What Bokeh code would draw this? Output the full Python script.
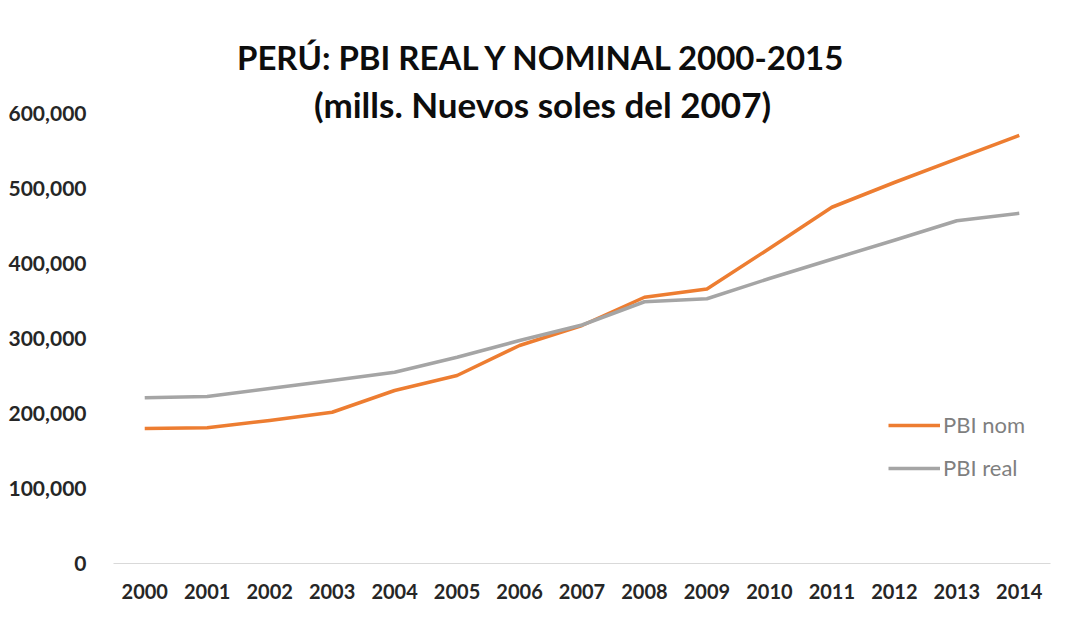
from bokeh.plotting import figure
from bokeh.models import (FactorRange, Range1d, FixedTicker, Legend, LegendItem,
                          Label, NumeralTickFormatter)
from bokeh.embed import file_html
from bokeh.resources import INLINE

years = [str(y) for y in range(2000, 2015)]
pbi_nom = [180000, 181000, 190700, 201700, 230700, 250700, 290700, 317300,
           355000, 366000, 420000, 475000, 508000, 539500, 570700]
pbi_real = [221000, 222700, 233300, 244000, 255000, 275000, 297300, 318000,
            349000, 353000, 380000, 405700, 431000, 457000, 467000]
y_ticks = [0, 100000, 200000, 300000, 400000, 500000, 600000]
title_lines = ["PERÚ: PBI REAL Y NOMINAL 2000-2015", "(mills. Nuevos soles del 2007)"]

ORANGE = "#ED7D31"
GRAY = "#A5A5A5"
FONT = "Lato"

p = figure(width=1060, height=615, output_backend="svg", toolbar_location=None,
           x_range=FactorRange(*years, range_padding=0),
           y_range=Range1d(0, 700000),
           min_border_left=113, min_border_right=10, min_border_top=38,
           min_border_bottom=52)
p.outline_line_color = None
p.background_fill_color = "white"
p.border_fill_color = "white"
p.xgrid.visible = False
p.ygrid.visible = False

r_nom = p.line(years, pbi_nom, line_color=ORANGE, line_width=3.5, line_join="round")
r_real = p.line(years, pbi_real, line_color=GRAY, line_width=3.5, line_join="round")

# y axis
p.yaxis.ticker = FixedTicker(ticks=y_ticks)
p.yaxis.formatter = NumeralTickFormatter(format="0,0")
p.yaxis.axis_line_color = None
p.yaxis.major_tick_line_color = None
p.yaxis.minor_tick_line_color = None
p.yaxis.major_label_standoff = 21
p.yaxis.major_label_text_font = FONT
p.yaxis.major_label_text_font_style = "bold"
p.yaxis.major_label_text_font_size = "21px"
p.yaxis.major_label_text_color = "#262626"

# x axis
p.xaxis.axis_line_color = "#D9D9D9"
p.xaxis.axis_line_width = 1
p.xaxis.major_tick_line_color = None
p.xaxis.minor_tick_line_color = None
p.xaxis.major_label_standoff = 14
p.xaxis.major_label_text_font = FONT
p.xaxis.major_label_text_font_style = "bold"
p.xaxis.major_label_text_font_size = "20px"
p.xaxis.major_label_text_color = "#262626"

# legend
legend = Legend(items=[LegendItem(label="PBI nom", renderers=[r_nom]),
                       LegendItem(label="PBI real", renderers=[r_real])],
                location=(775, 82), orientation="vertical")
legend.border_line_color = None
legend.background_fill_alpha = 0
legend.padding = 0
legend.margin = 0
legend.spacing = 16
legend.glyph_width = 52
legend.glyph_height = 20
legend.label_height = 20
legend.label_standoff = 3
legend.label_text_font = FONT
legend.label_text_font_size = "22px"
legend.label_text_color = "#7F7F7F"
p.add_layout(legend, "center")

# title (two lines, overlapping the top of the plot area as in the original)
for txt, yb, fs in zip(title_lines, [507, 460], ["33px", "35px"]):
    p.add_layout(Label(x=429, y=yb, x_units="screen", y_units="screen", text=txt,
                       text_align="center", text_baseline="alphabetic",
                       text_font=FONT, text_font_style="bold",
                       text_font_size=fs, text_color="#0D0D0D"))

open("out.html", "w").write(file_html(p, INLINE))
